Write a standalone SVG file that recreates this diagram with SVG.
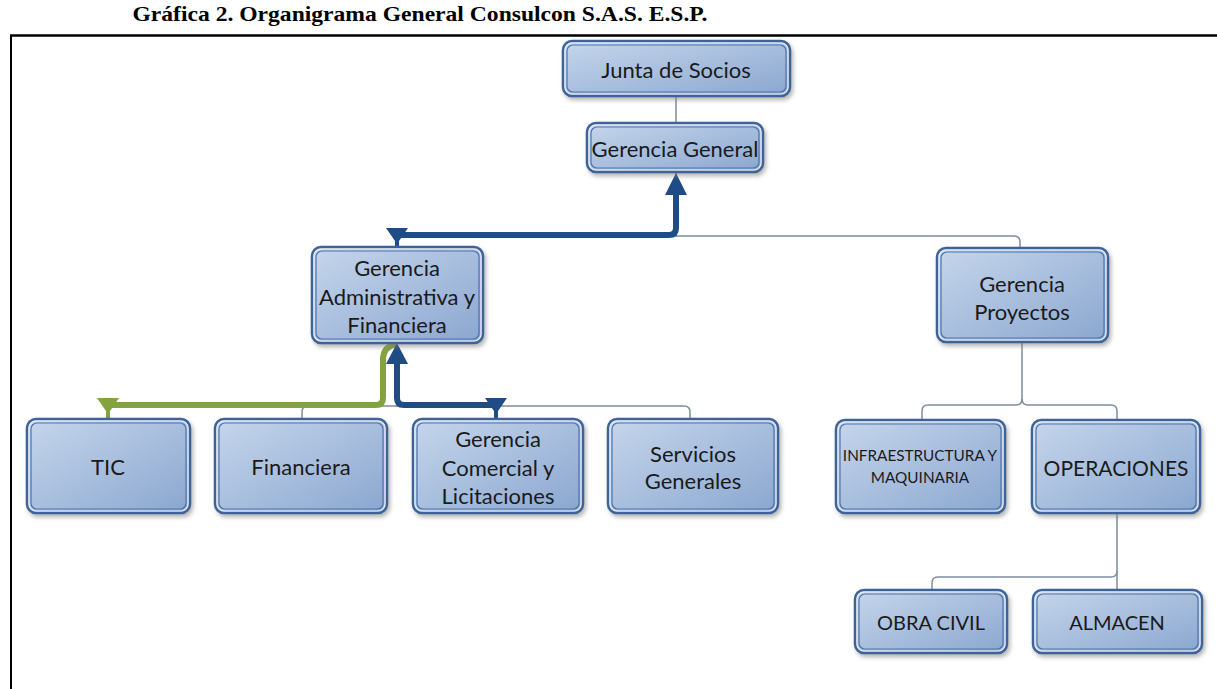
<svg xmlns="http://www.w3.org/2000/svg" width="1217" height="689" viewBox="0 0 1217 689">
  <defs>
    <linearGradient id="boxFill" x1="0" y1="0" x2="1" y2="1">
      <stop offset="0" stop-color="#c6d6ec"/>
      <stop offset="0.55" stop-color="#a5bcdc"/>
      <stop offset="1" stop-color="#8aa6cf"/>
    </linearGradient>
    <filter id="shadow" x="-10%" y="-10%" width="125%" height="135%">
      <feDropShadow dx="2" dy="3" stdDeviation="2" flood-color="#7a7a7a" flood-opacity="0.55"/>
    </filter>
  </defs>
  <style>
    .outer { fill: url(#boxFill); stroke: #3e6398; stroke-width: 2.5; filter: url(#shadow); }
    .hl { fill: none; stroke: #e8eef7; stroke-width: 1.2; }
    .inner { fill: none; stroke: #4f74aa; stroke-width: 1.2; }
    .lbl { font-family: Lato, "Open Sans", "Liberation Sans", sans-serif; fill: #1a1a1a; text-anchor: middle; dominant-baseline: central; font-size: 22px; }
    .thin { fill: none; stroke: #7d8d9f; stroke-width: 1.5; }
    .blue { fill: none; stroke: #1f4c85; stroke-width: 6; stroke-linejoin: round; }
    .green { fill: none; stroke: #82a340; stroke-width: 6; stroke-linejoin: round; }
    .blueHead { fill: #1f4c85; }
    .greenHead { fill: #82a340; }
    .frame { stroke: #000; fill: none; }
  </style>

  <rect width="1217" height="689" fill="#ffffff"/>

  <!-- heading and page frame -->
  <text x="420" y="21" font-family="'Liberation Serif', 'Times New Roman', serif" font-weight="bold" font-size="21" text-anchor="middle" fill="#000" textLength="575" lengthAdjust="spacingAndGlyphs">Gráfica 2. Organigrama General Consulcon S.A.S. E.S.P.</text>
  <line class="frame" x1="10" y1="35.5" x2="1217" y2="35.5" stroke-width="2.5"/>
  <line class="frame" x1="11" y1="35" x2="11" y2="689" stroke-width="2"/>

  <!-- connectors -->
  <g id="connectors">
    <path class="thin" d="M676,96 L676,123" stroke="#555"/>
    <path class="thin" d="M676,172 L676,236 L1014,236 Q1020,236 1020,242 L1020,248"/>
    <path class="thin" d="M302,419 L302,412 Q302,406 308,406 L684,406 Q690,406 690,412 L690,419"/>
    <path class="thin" d="M1022,342 L1022,399 Q1022,405 1016,405 L928,405 Q922,405 922,411 L922,420"/>
    <path class="thin" d="M1022,399 Q1022,405 1028,405 L1111,405 Q1117,405 1117,411 L1117,420"/>
    <path class="thin" d="M1117,513 L1117,590"/>
    <path class="thin" d="M1117,571 Q1117,577 1111,577 L938,577 Q932,577 932,583 L932,590"/>

    <!-- green route to TIC -->
    <path class="green" d="M397,344 Q384,346 383,358 L383,398 Q383,405 376,405 L108,405"/>
    <polygon class="greenHead" points="97,398 119,398 110,411 110,419 106,419 106,411"/>

    <!-- blue route to Gerencia General -->
    <path class="blue" d="M676,190 L676,228 Q676,235 669,235 L397,235"/>
    <polygon class="blueHead" points="676,173 665,195 687,195"/>
    <polygon class="blueHead" points="386,228 408,228 399,241 399,248 395,248 395,241"/>

    <!-- blue route to Gerencia Comercial -->
    <path class="blue" d="M397,360 L397,398 Q397,405 404,405 L496,405"/>
    <polygon class="blueHead" points="397,343 386,364 408,364"/>
    <polygon class="blueHead" points="485,398 507,398 498,411 498,419 494,419 494,411"/>
  </g>

  <!-- nodes -->
  <g id="junta">
    <rect class="outer" x="563" y="41" width="227" height="55" rx="9"/>
    <rect class="hl" x="565" y="43" width="223" height="51" rx="7"/>
    <rect class="inner" x="567" y="45" width="219" height="47" rx="6"/>
    <text class="lbl" x="676" y="69">Junta de Socios</text>
  </g>

  <g id="gerencia-general">
    <rect class="outer" x="587" y="123" width="176" height="49" rx="9"/>
    <rect class="hl" x="589" y="125" width="172" height="45" rx="7"/>
    <rect class="inner" x="591" y="127" width="168" height="41" rx="6"/>
    <text class="lbl" x="675" y="148">Gerencia General</text>
  </g>

  <g id="gerencia-administrativa">
    <rect class="outer" x="312" y="247" width="171" height="96" rx="9"/>
    <rect class="hl" x="314" y="249" width="167" height="92" rx="7"/>
    <rect class="inner" x="316" y="251" width="163" height="88" rx="6"/>
    <text class="lbl" x="397" y="267">Gerencia</text>
    <text class="lbl" x="397" y="296">Administrativa y</text>
    <text class="lbl" x="397" y="324">Financiera</text>
  </g>

  <g id="gerencia-proyectos">
    <rect class="outer" x="937" y="248" width="171" height="94" rx="9"/>
    <rect class="hl" x="939" y="250" width="167" height="90" rx="7"/>
    <rect class="inner" x="941" y="252" width="163" height="86" rx="6"/>
    <text class="lbl" x="1022" y="283">Gerencia</text>
    <text class="lbl" x="1022" y="311">Proyectos</text>
  </g>

  <g id="tic">
    <rect class="outer" x="27" y="419" width="163" height="94" rx="9"/>
    <rect class="hl" x="29" y="421" width="159" height="90" rx="7"/>
    <rect class="inner" x="31" y="423" width="155" height="86" rx="6"/>
    <text class="lbl" x="108" y="466">TIC</text>
  </g>

  <g id="financiera">
    <rect class="outer" x="215" y="419" width="172" height="94" rx="9"/>
    <rect class="hl" x="217" y="421" width="168" height="90" rx="7"/>
    <rect class="inner" x="219" y="423" width="164" height="86" rx="6"/>
    <text class="lbl" x="301" y="466">Financiera</text>
  </g>

  <g id="gerencia-comercial">
    <rect class="outer" x="413" y="419" width="170" height="94" rx="9"/>
    <rect class="hl" x="415" y="421" width="166" height="90" rx="7"/>
    <rect class="inner" x="417" y="423" width="162" height="86" rx="6"/>
    <text class="lbl" x="498" y="438">Gerencia</text>
    <text class="lbl" x="498" y="467">Comercial y</text>
    <text class="lbl" x="498" y="495">Licitaciones</text>
  </g>

  <g id="servicios-generales">
    <rect class="outer" x="608" y="419" width="170" height="94" rx="9"/>
    <rect class="hl" x="610" y="421" width="166" height="90" rx="7"/>
    <rect class="inner" x="612" y="423" width="162" height="86" rx="6"/>
    <text class="lbl" x="693" y="453">Servicios</text>
    <text class="lbl" x="693" y="480">Generales</text>
  </g>

  <g id="infraestructura">
    <rect class="outer" x="836" y="420" width="169" height="93" rx="9"/>
    <rect class="hl" x="838" y="422" width="165" height="89" rx="7"/>
    <rect class="inner" x="840" y="424" width="161" height="85" rx="6"/>
    <text class="lbl" x="920" y="455" style="font-size:15.3px">INFRAESTRUCTURA Y</text>
    <text class="lbl" x="920" y="477" style="font-size:15.3px">MAQUINARIA</text>
  </g>

  <g id="operaciones">
    <rect class="outer" x="1032" y="420" width="168" height="93" rx="9"/>
    <rect class="hl" x="1034" y="422" width="164" height="89" rx="7"/>
    <rect class="inner" x="1036" y="424" width="160" height="85" rx="6"/>
    <text class="lbl" x="1116" y="467" style="font-size:21px">OPERACIONES</text>
  </g>

  <g id="obra-civil">
    <rect class="outer" x="855" y="590" width="152" height="63" rx="9"/>
    <rect class="hl" x="857" y="592" width="148" height="59" rx="7"/>
    <rect class="inner" x="859" y="594" width="144" height="55" rx="6"/>
    <text class="lbl" x="931" y="622" style="font-size:20px">OBRA CIVIL</text>
  </g>

  <g id="almacen">
    <rect class="outer" x="1033" y="590" width="169" height="63" rx="9"/>
    <rect class="hl" x="1035" y="592" width="165" height="59" rx="7"/>
    <rect class="inner" x="1037" y="594" width="161" height="55" rx="6"/>
    <text class="lbl" x="1117" y="622" style="font-size:20px">ALMACEN</text>
  </g>
</svg>
